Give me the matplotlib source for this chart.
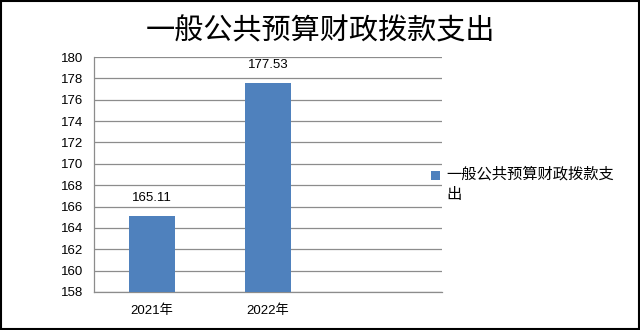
import matplotlib
matplotlib.use("Agg")
import matplotlib.pyplot as plt
from matplotlib.patches import Rectangle

plt.rcParams['font.family'] = ['Liberation Sans', 'Noto Sans CJK SC', 'DejaVu Sans']

categories = ['2021年', '2022年']
values = [165.11, 177.53]
series_name = '一般公共预算财政拨款支出'
title = '一般公共预算财政拨款支出'
yticks = list(range(158, 181, 2))

bar_color = '#4F81BD'
grid_color = '#8C8C8C'

fig = plt.figure(figsize=(6.4, 3.3), dpi=100)
fig.patch.set_facecolor('white')
fig.patches.append(Rectangle((0.0015, 0.003), 0.997, 0.994, transform=fig.transFigure,
                             fill=False, edgecolor='black', linewidth=1.5))

ax = fig.add_axes([94/640, 1-292/330, (442-94)/640, (292-57)/330])
x = list(range(len(categories)))
bars = ax.bar(x, values, width=0.39, color=bar_color, zorder=3)
ax.set_xlim(-0.5, 2.5)
ax.set_ylim(158, 180)
ax.set_yticks(yticks)
ax.set_yticklabels([str(t) for t in yticks], fontsize=9.5)
ax.set_xticks(x)
ax.set_xticklabels(categories, fontsize=9.5)
ax.tick_params(axis='both', length=0, pad=8)
ax.tick_params(axis='x', pad=9)
ax.yaxis.grid(True, color=grid_color, linewidth=0.9, zorder=0)
ax.set_axisbelow(True)
for s in ['top', 'right']:
    ax.spines[s].set_visible(False)
for s in ['left', 'bottom']:
    ax.spines[s].set_color(grid_color)
    ax.spines[s].set_linewidth(0.9)

for xi, v in zip(x, values):
    ax.annotate(f'{v:.2f}', (xi, v), xytext=(0, 9), textcoords='offset points',
                ha='center', va='bottom', fontsize=9.5)

fig.text(0.5, 1-31/330, title, ha='center', va='center', fontsize=21,
         family=['Noto Sans CJK SC', 'DejaVu Sans'])

# legend
fig.patches.append(Rectangle((431/640, 1-180/330), 9/640, 9/330, transform=fig.transFigure,
                             facecolor=bar_color, edgecolor='none'))
fig.text(446/640, 1-166/330, series_name[:-1] + '\n' + series_name[-1], ha='left', va='top',
         fontsize=11, linespacing=1.25, family=['Noto Sans CJK SC', 'DejaVu Sans'])

fig.savefig('out.png', dpi=100, facecolor='white')
